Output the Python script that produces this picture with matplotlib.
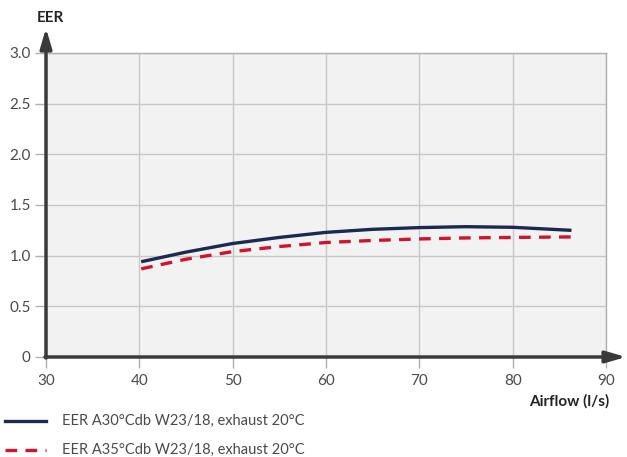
import matplotlib
matplotlib.use("Agg")
import matplotlib.pyplot as plt
from matplotlib.lines import Line2D

airflow = [40.2, 45, 50, 55, 60, 65, 70, 75, 80, 86.3]
eer_a30 = [0.94, 1.035, 1.12, 1.18, 1.23, 1.26, 1.277, 1.286, 1.28, 1.25]
eer_a35 = [0.87, 0.965, 1.04, 1.09, 1.13, 1.15, 1.165, 1.175, 1.18, 1.185]
x_ticks = [30, 40, 50, 60, 70, 80, 90]
y_ticks = [0, 0.5, 1.0, 1.5, 2.0, 2.5, 3.0]
y_tick_labels = ["0", "0.5", "1.0", "1.5", "2.0", "2.5", "3.0"]
label_a30 = "EER A30°Cdb W23/18, exhaust 20°C"
label_a35 = "EER A35°Cdb W23/18, exhaust 20°C"

plt.rcParams['font.family'] = ['Lato', 'DejaVu Sans']

W, H = 627, 457
fig = plt.figure(figsize=(W / 100, H / 100), dpi=100)
L, R, B, T = 46, 606, 357, 53
ax = fig.add_axes([L / W, 1 - B / H, (R - L) / W, (B - T) / H])
ax.set_facecolor('#f2f2f2')
ax.set_xlim(30, 90)
ax.set_ylim(0, 3.0)
ax.set_xticks(x_ticks)
ax.set_yticks(y_ticks)
ax.set_yticklabels(y_tick_labels)
ax.grid(True, color='#c8c8c8', linewidth=1.0)
ax.set_axisbelow(True)
for s in ['top', 'right']:
    ax.spines[s].set_color('#b0b0b0')
    ax.spines[s].set_linewidth(1.0)
for s in ['left', 'bottom']:
    ax.spines[s].set_visible(False)
ax.tick_params(axis='both', colors='#b0b0b0', labelcolor='#4a4a4a', labelsize=11, length=8, width=1)
ax.tick_params(axis='x', pad=4)
ax.tick_params(axis='y', pad=3)

ax.plot(airflow, eer_a30, color='#1c2a50', linewidth=2.4, solid_capstyle='butt')
ax.plot(airflow, eer_a35, color='#d0142c', linewidth=2.4, linestyle=(0, (3.5, 2.5)))

def fx(px):
    return px / W
def fy(py):
    return 1 - py / H

ax.annotate('', xy=(fx(L), fy(28)), xycoords='figure fraction',
            xytext=(fx(L), fy(B + 1)), textcoords='figure fraction',
            arrowprops=dict(arrowstyle='-|>,head_length=1.2,head_width=0.35', color='#3a3a3a', lw=2.5,
                            shrinkA=0, shrinkB=0), annotation_clip=False)
ax.annotate('', xy=(fx(626), fy(B)), xycoords='figure fraction',
            xytext=(fx(L - 1), fy(B)), textcoords='figure fraction',
            arrowprops=dict(arrowstyle='-|>,head_length=1.2,head_width=0.35', color='#3a3a3a', lw=2.5,
                            shrinkA=0, shrinkB=0), annotation_clip=False)

fig.text(fx(37), fy(18), "EER", fontsize=11, fontweight='bold', color='#222222', va='center', ha='left')
fig.text(fx(609), fy(401), "Airflow (l/s)", fontsize=11, fontweight='bold', color='#222222', va='center', ha='right')

fig.add_artist(Line2D([fx(5), fx(46)], [fy(421), fy(421)], color='#1c2a50', linewidth=2.4))
fig.add_artist(Line2D([fx(5), fx(46)], [fy(450), fy(450)], color='#d0142c', linewidth=2.4, linestyle=(0, (3.5, 2.5))))
fig.text(fx(62), fy(421), label_a30, fontsize=10.5, color='#4a4a4a', va='center', ha='left')
fig.text(fx(62), fy(450), label_a35, fontsize=10.5, color='#4a4a4a', va='center', ha='left')

fig.savefig("out.png", dpi=100)
